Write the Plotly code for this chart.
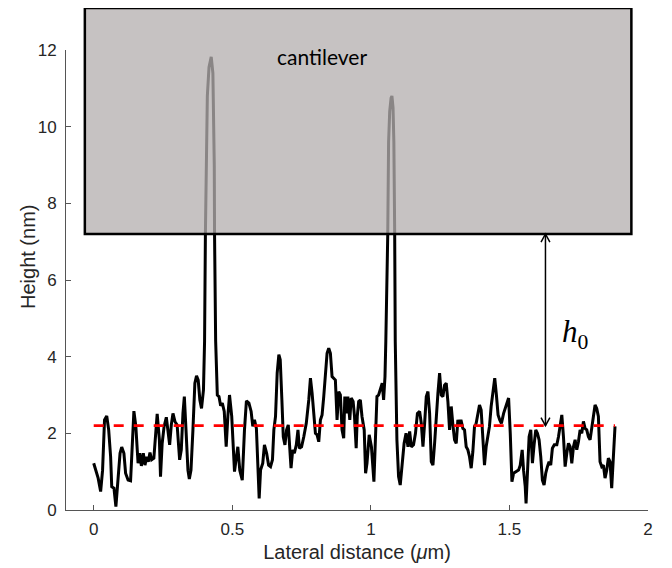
import plotly.graph_objects as go

# ---- data ----
x_um = [
    0.000, 0.007, 0.016, 0.025, 0.032, 0.039, 0.047, 0.054, 0.061, 0.065, 0.073, 0.080, 0.088, 0.095,
    0.101, 0.109, 0.115, 0.124, 0.133, 0.139, 0.145, 0.152, 0.160, 0.166, 0.172, 0.179, 0.185, 0.191,
    0.197, 0.203, 0.209, 0.217, 0.223, 0.229, 0.237, 0.241, 0.247, 0.254, 0.262, 0.268, 0.274, 0.280,
    0.286, 0.293, 0.301, 0.310, 0.316, 0.322, 0.327, 0.333, 0.340, 0.345, 0.351, 0.358, 0.365, 0.371,
    0.377, 0.383, 0.389, 0.396,
    0.400, 0.403, 0.406, 0.410, 0.416, 0.424, 0.430, 0.433, 0.435, 0.436, 0.440,
    0.446, 0.452, 0.458, 0.464, 0.471, 0.478, 0.484, 0.490, 0.498, 0.508, 0.515, 0.520, 0.527, 0.536,
    0.544, 0.551, 0.560, 0.568, 0.574, 0.580, 0.587, 0.592, 0.597, 0.602, 0.610, 0.616, 0.624, 0.631,
    0.638, 0.645, 0.650, 0.656, 0.662, 0.668, 0.673, 0.679, 0.684, 0.690, 0.696, 0.702, 0.707, 0.712,
    0.718, 0.724, 0.731, 0.737, 0.742, 0.750, 0.758, 0.767, 0.776, 0.782, 0.788, 0.794, 0.800, 0.806,
    0.812, 0.818, 0.824, 0.830, 0.836, 0.842, 0.848, 0.854, 0.860, 0.866, 0.872, 0.878, 0.884, 0.890,
    0.896, 0.902, 0.906, 0.912, 0.917, 0.924, 0.929, 0.936, 0.941, 0.947, 0.951, 0.956, 0.962, 0.968,
    0.976, 0.981, 0.986, 0.994, 1.002, 1.011, 1.016, 1.022, 1.028, 1.034, 1.041, 1.046, 1.051,
    1.054, 1.058, 1.061, 1.064, 1.068, 1.073, 1.076, 1.080, 1.083, 1.086, 1.088,
    1.094, 1.100, 1.106, 1.113, 1.120, 1.127, 1.134, 1.140, 1.146, 1.154, 1.161, 1.168, 1.176, 1.182,
    1.188, 1.194, 1.200, 1.206, 1.212, 1.218, 1.224, 1.230, 1.236, 1.242, 1.248, 1.254, 1.260, 1.266,
    1.272, 1.278, 1.284, 1.290, 1.296, 1.302, 1.308, 1.314, 1.319, 1.325, 1.332, 1.338, 1.344, 1.350,
    1.356, 1.362, 1.368, 1.374, 1.380, 1.386, 1.392, 1.398, 1.404, 1.410, 1.416, 1.422, 1.428, 1.434,
    1.440, 1.447, 1.453, 1.459, 1.465, 1.471, 1.479, 1.488, 1.497, 1.503, 1.509, 1.515, 1.524, 1.533,
    1.539, 1.546, 1.551, 1.557, 1.560, 1.566, 1.571, 1.577, 1.583, 1.589, 1.595, 1.601, 1.607, 1.613,
    1.619, 1.625, 1.631, 1.637, 1.643, 1.649, 1.655, 1.662, 1.671, 1.677, 1.683, 1.689, 1.695, 1.701,
    1.707, 1.713, 1.719, 1.725, 1.731, 1.737, 1.743, 1.749, 1.755, 1.761, 1.767, 1.773, 1.779, 1.785,
    1.791, 1.797, 1.803, 1.809, 1.815, 1.821, 1.827, 1.833, 1.839, 1.845, 1.851, 1.857, 1.863, 1.869,
    1.875, 1.881,
]
height_nm = [
    1.22, 1.04, 0.83, 0.48, 1.04, 2.35, 2.45, 2.09, 1.39, 0.61, 0.57, 0.09, 0.78, 1.48,
    1.64, 1.48, 0.96, 0.78, 0.76, 1.65, 2.58, 2.18, 1.22, 1.48, 1.15, 1.48, 1.17, 1.39,
    1.26, 1.50, 1.31, 1.35, 2.00, 2.51, 1.83, 0.87, 1.74, 2.18, 2.42, 2.09, 1.70, 2.22,
    2.52, 2.31, 2.22, 1.31, 1.57, 2.52, 2.96, 2.09, 1.04, 0.81, 1.04, 2.09, 3.31, 3.50,
    3.39, 2.87, 2.65, 3.13,
    4.40, 7.20, 9.40, 10.80, 11.55, 11.82, 11.40, 10.30, 9.00, 7.20, 4.40,
    3.00, 2.96, 2.72, 2.79, 2.57, 1.65, 2.44, 3.00, 2.44, 1.00, 1.39, 1.65, 1.04, 0.78,
    2.09, 2.85, 2.79, 2.57, 2.18, 2.35, 2.13, 1.31, 0.30, 1.04, 1.22, 1.70, 1.48, 1.17,
    1.13, 1.31, 2.09, 2.44, 3.57, 4.05, 3.92, 2.87, 1.91, 1.70, 2.09, 2.22, 1.61, 1.09,
    1.57, 1.48, 1.70, 2.09, 1.61, 1.65, 1.91, 2.26, 2.87, 3.44, 3.05, 2.39, 2.00, 1.96,
    1.78, 2.35, 2.48, 2.96, 3.65, 4.09, 4.22, 4.09, 3.48, 3.44, 3.39, 2.35, 3.09, 3.00,
    2.09, 1.87, 2.96, 2.52, 2.96, 2.35, 2.92, 2.83, 2.44, 1.61, 2.44, 2.83, 2.87, 2.44,
    2.09, 0.96, 1.22, 1.96, 1.65, 0.74, 1.83, 2.96, 3.00, 3.18, 3.31, 2.87, 3.48,
    4.40, 6.00, 7.20, 9.60, 10.40, 10.75, 10.80, 10.50, 9.60, 7.20, 4.40,
    1.83, 0.87, 0.65, 1.22, 1.74, 2.00, 1.65, 2.05, 1.65, 1.70, 2.00, 2.52, 2.57, 2.26,
    1.65, 2.26, 2.96, 3.09, 2.52, 1.26, 1.17, 1.74, 2.48, 3.05, 3.57, 3.00, 2.96, 3.26,
    3.31, 2.83, 2.09, 2.70, 2.22, 1.83, 1.74, 2.35, 2.18, 2.35, 2.13, 2.09, 1.65, 1.57,
    1.39, 1.09, 1.52, 2.18, 2.26, 2.52, 2.74, 2.61, 1.91, 1.17, 1.65, 1.91, 2.18, 2.70,
    3.00, 3.44, 3.00, 2.48, 2.35, 2.26, 2.52, 2.70, 2.92, 2.00, 0.74, 0.96, 1.00, 1.04,
    1.17, 1.57, 1.04, 0.61, 0.17, 1.04, 1.91, 2.09, 1.22, 1.70, 2.09, 2.00, 1.83, 1.39,
    0.78, 0.65, 0.96, 1.13, 1.26, 1.17, 1.61, 1.70, 1.70, 1.91, 2.18, 2.48, 1.91, 1.13,
    1.48, 1.74, 1.65, 1.22, 1.65, 1.83, 1.57, 1.78, 2.09, 2.00, 2.31, 2.13, 2.09, 1.91,
    1.83, 2.09, 2.44, 2.74, 2.65, 2.44, 1.26, 1.13, 1.17, 0.83, 1.04, 1.35, 1.26, 0.57,
    1.39, 2.18,
]
mean_height = 2.2          # red dashed reference level (nm)
cantilever_bottom = 7.2    # lower edge of the cantilever (nm)
x_ticks = [0, 0.5, 1, 1.5, 2]
x_tick_labels = ["0", "0.5", "1", "1.5", "2"]
y_ticks = [0, 2, 4, 6, 8, 10, 12]
y_tick_labels = ["0", "2", "4", "6", "8", "10", "12"]

# ---- layout constants ----
X_RANGE = [-0.1, 2.0]
Y_RANGE = [0, 12]
AX_COL = "#555555"
TXT_COL = "#262626"
SANS = "Liberation Sans, Arial, sans-serif"


def xp(v):
    return (v - X_RANGE[0]) / (X_RANGE[1] - X_RANGE[0])


def yp(v):
    return (v - Y_RANGE[0]) / (Y_RANGE[1] - Y_RANGE[0])


fig = go.Figure()
fig.add_trace(go.Scatter(x=x_um, y=height_nm, mode="lines",
                         line=dict(color="black", width=3), hoverinfo="skip"))
fig.add_trace(go.Scatter(x=[x_um[0], x_um[-1]], y=[mean_height, mean_height], mode="lines",
                         line=dict(color="#ff0000", width=2.6, dash="10px,10px"), hoverinfo="skip"))

# cantilever box (semi-transparent fill over the trace, then solid border)
rx0, rx1, rtop = -0.032, 1.94, 1.0913
fig.add_shape(type="rect", xref="paper", yref="paper",
              x0=xp(rx0), x1=xp(rx1), y0=yp(cantilever_bottom), y1=rtop,
              fillcolor="rgba(180,175,175,0.76)", line=dict(width=0), layer="above")
fig.add_shape(type="rect", xref="paper", yref="paper",
              x0=xp(rx0), x1=xp(rx1), y0=yp(cantilever_bottom), y1=rtop,
              fillcolor="rgba(0,0,0,0)", line=dict(color="black", width=2.5), layer="above")

# h0 double arrow
ax = 1.63
hw, hh = 0.016, 0.21
fig.add_shape(type="line", x0=ax, x1=ax, y0=mean_height, y1=cantilever_bottom,
              line=dict(color="black", width=1.5), layer="above")
fig.add_shape(type="path",
              path=f"M {ax-hw},{mean_height+hh} L {ax},{mean_height} L {ax+hw},{mean_height+hh}",
              line=dict(color="black", width=1.5), layer="above")
fig.add_shape(type="path",
              path=f"M {ax-hw},{cantilever_bottom-hh} L {ax},{cantilever_bottom} L {ax+hw},{cantilever_bottom-hh}",
              line=dict(color="black", width=1.5), layer="above")

fig.add_annotation(x=1.74, y=4.6, xref="x", yref="y", showarrow=False,
                   text="<i>h</i><sub>0</sub>",
                   font=dict(family="Liberation Serif, DejaVu Serif, serif", size=31, color="black"))
fig.add_annotation(x=0.825, y=11.83, xref="x", yref="y", showarrow=False,
                   text="cantilever",
                   font=dict(family="Lato, Open Sans, sans-serif", size=21, color="black"))
# y-axis title placed as in the reference
fig.add_annotation(x=-0.0653, y=0.55, xref="paper", yref="paper", showarrow=False,
                   text="Height (nm)", textangle=-90, xanchor="center", yanchor="middle",
                   font=dict(family=SANS, size=20, color=TXT_COL))

# the page adds an 8px body margin, so the figure is 8px smaller and the margins are shifted
fig.update_layout(
    width=664, height=560,
    margin=dict(l=58, r=24, t=42, b=58, autoexpand=False),
    paper_bgcolor="white", plot_bgcolor="white",
    showlegend=False,
    font=dict(family=SANS, color=TXT_COL),
    xaxis=dict(range=X_RANGE, tickvals=x_ticks, ticktext=x_tick_labels, automargin=False,
               showgrid=False, zeroline=False, showline=True, linecolor=AX_COL, linewidth=1,
               ticks="inside", ticklen=5, tickcolor=AX_COL, ticklabelstandoff=4,
               tickfont=dict(size=17, color=TXT_COL),
               title=dict(text="Lateral distance (<i>μ</i>m)", font=dict(size=20, color=TXT_COL), standoff=6)),
    yaxis=dict(range=Y_RANGE, tickvals=y_ticks, ticktext=y_tick_labels, automargin=False,
               showgrid=False, zeroline=False, showline=True, linecolor=AX_COL, linewidth=1,
               ticks="inside", ticklen=5, tickcolor=AX_COL, ticklabelstandoff=5,
               tickfont=dict(size=17, color=TXT_COL)),
)

fig.write_html("out.html")
